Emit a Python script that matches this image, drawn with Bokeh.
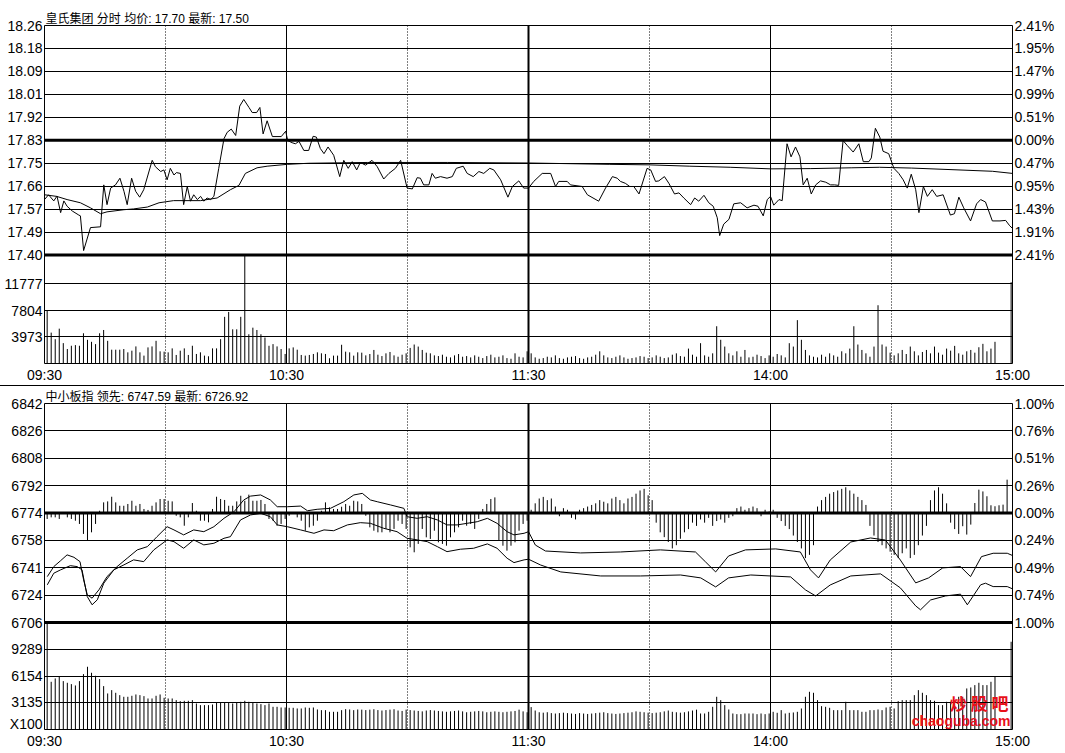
import numpy as np
from bokeh.plotting import figure
from bokeh.models import Range1d, LinearAxis, FixedTicker, Span, Label, Div, Title
from bokeh.layouts import column
from bokeh.embed import file_html
from bokeh.resources import INLINE

# ------------------------------------------------------------------ data
stock_title = "皇氏集团 分时 均价: 17.70 最新: 17.50"
index_title = "中小板指 领先: 6747.59 最新: 6726.92"
watermark_cn = "炒 股 吧"
watermark_en = "chaoguba.com"
vol_unit_label = "X100"

time_ticks = [0, 60, 120, 180, 240]
time_labels = ["09:30", "10:30", "11:30", "14:00", "15:00"]

# stock (price panel)
price_lo, price_hi, price_prev = 17.40, 18.26, 17.83
price_tick_labels = ["17.40", "17.49", "17.57", "17.66", "17.75", "17.83",
                     "17.92", "18.01", "18.09", "18.18", "18.26"]
price_pct_labels = ["2.41%", "1.91%", "1.43%", "0.95%", "0.47%", "0.00%",
                    "0.51%", "0.99%", "1.47%", "1.95%", "2.41%"]
vol1_ticks = [3973, 7804, 11777]
vol1_top = 16000

price_t = [0, 1, 2.3, 3.1, 4, 4.8, 5.6, 6.9, 8.5, 8.9, 9.7, 11.4, 13.9, 14.7, 15.5, 16.4, 17.6, 18.7, 19.7,
           20.5, 21.6, 22.6, 23.6, 24.6, 26.7, 27.5, 28.8, 29.6, 30.4, 31.2, 32.1, 32.7, 33.7, 34.5, 35.4,
           36.2, 37, 37.9, 38.7, 39.5, 40.3, 41.2, 42, 43.2, 44.5, 45.3, 46.3, 47.4, 48.4, 49.4, 50.7, 51.5,
           52.6, 53.4, 54.2, 55.2, 56.5, 58.7, 59.8, 60.3, 61.4, 62.2, 63.1, 64.3, 65.5, 66.6, 67.4, 68.4,
           69.3, 70.3, 71.7, 73.2, 74.2, 75.3, 76.3, 77.4, 78.3, 79.6, 81.2, 82.5, 84.1, 85.4, 87, 88.3,
           89.9, 91.2, 92.4, 93.2, 94, 95.3, 96.1, 96.9, 98.2, 99.8, 101.1, 102.1, 103.8, 104.8, 106.3,
           107.7, 108.9, 110.4, 111.4, 113.1, 114.9, 116, 117.6, 118.8, 120, 121.3, 123.4, 125.5, 126.7,
           127.5, 129.6, 130.4, 133.3, 134.6, 137.4, 139.1, 140.8, 142, 142.8, 144, 145.1, 146.1, 147.4,
           149.4, 150.3, 151.5, 152.3, 153.7, 154.8, 156.2, 157.3, 158.5, 160.2, 161.2, 162.2, 163.5,
           164.7, 165.8, 166.8, 167.4, 168.4, 169.7, 170.9, 172.6, 174.2, 175.9, 176.9, 178.2, 179.2, 180,
           180.8, 182.1, 182.9, 184.1, 185.1, 186.2, 187.3, 188.1, 189.1, 190.1, 191.2, 192.4, 193.7,
           194.9, 195.9, 196.9, 198, 199, 200.5, 201.9, 203, 204.4, 205, 206, 207.1, 207.9, 209.3, 210.6,
           211.8, 212.9, 213.9, 214.9, 216, 216.8, 217.9, 218.9, 220.1, 221.2, 222.8, 224.6, 225.6, 226.7,
           227.9, 229.6, 231.1, 232.1, 233.3, 235, 236.9, 238.3, 239.3, 240]
price_v = [17.608, 17.626, 17.603, 17.621, 17.559, 17.603, 17.583, 17.565, 17.55, 17.547, 17.417, 17.503,
           17.506, 17.663, 17.589, 17.651, 17.663, 17.688, 17.639, 17.589, 17.688, 17.639, 17.617, 17.645,
           17.755, 17.731, 17.713, 17.719, 17.682, 17.725, 17.70, 17.709, 17.706, 17.589, 17.657, 17.602,
           17.626, 17.608, 17.62, 17.602, 17.614, 17.608, 17.62, 17.725, 17.836, 17.86, 17.872, 17.848,
           17.958, 17.983, 17.953, 17.934, 17.934, 17.953, 17.854, 17.903, 17.844, 17.844, 17.864, 17.829,
           17.821, 17.817, 17.826, 17.792, 17.792, 17.845, 17.842, 17.799, 17.78, 17.805, 17.774, 17.694,
           17.755, 17.725, 17.75, 17.719, 17.747, 17.737, 17.755, 17.731, 17.685, 17.706, 17.725, 17.755,
           17.651, 17.648, 17.69, 17.688, 17.663, 17.663, 17.706, 17.688, 17.694, 17.688, 17.694, 17.725,
           17.733, 17.706, 17.694, 17.713, 17.706, 17.725, 17.719, 17.682, 17.617, 17.657, 17.678, 17.651,
           17.651, 17.676, 17.706, 17.706, 17.657, 17.676, 17.676, 17.663, 17.657, 17.626, 17.602, 17.651,
           17.694, 17.688, 17.676, 17.669, 17.657, 17.657, 17.629, 17.725, 17.719, 17.676, 17.678, 17.694,
           17.669, 17.629, 17.633, 17.614, 17.589, 17.614, 17.602, 17.624, 17.596, 17.583, 17.54, 17.473,
           17.516, 17.534, 17.592, 17.596, 17.577, 17.587, 17.583, 17.547, 17.608, 17.62, 17.587, 17.608,
           17.604, 17.817, 17.768, 17.805, 17.768, 17.663, 17.688, 17.629, 17.663, 17.678, 17.673, 17.663,
           17.663, 17.661, 17.829, 17.811, 17.786, 17.817, 17.75, 17.75, 17.764, 17.875, 17.842, 17.789,
           17.78, 17.725, 17.706, 17.682, 17.651, 17.703, 17.645, 17.559, 17.657, 17.62, 17.645, 17.62,
           17.626, 17.55, 17.555, 17.617, 17.577, 17.528, 17.592, 17.608, 17.599, 17.528, 17.528, 17.53,
           17.51, 17.50]

avg_t = [0, 3, 5.6, 8.9, 11.4, 13.9, 15.5, 19.7, 22.1, 25.5, 28.4, 32, 38.7, 42.8, 46.1, 48.2, 49.8,
         52.7, 55.2, 60.2, 65.5, 80, 100, 120, 140, 150, 160, 170, 180, 190, 200, 207, 215, 225, 235, 240]
avg_v = [17.626, 17.62, 17.608, 17.596, 17.577, 17.555, 17.562, 17.57, 17.573, 17.58, 17.596, 17.604,
         17.604, 17.614, 17.645, 17.661, 17.706, 17.727, 17.733, 17.74, 17.744, 17.747, 17.747, 17.745,
         17.74, 17.738, 17.733, 17.729, 17.723, 17.724, 17.727, 17.729, 17.726, 17.72, 17.714, 17.706]

vol1 = [7804, 4559, 3589, 5141, 3007, 2134, 2619, 2716, 2619, 4462,
        3492, 3201, 2862, 4462, 4947, 3347, 2037, 2037, 2037, 2134,
        1649, 1892, 2522, 1649, 1164, 2377, 2522, 3347, 1795, 1746,
        1649, 2231, 1261, 1892, 2231, 1261, 2619, 1407, 1649, 1164,
        1067, 2231, 2231, 3589, 6887, 7615, 5044, 5044, 6887, 16000,
        4317, 5287, 4947, 4317, 3832, 2619, 2862, 2522, 2134, 1407,
        2231, 2377, 2037, 1261, 1164, 1261, 1407, 1649, 1504, 1407,
        776, 1164, 1164, 2765, 1746, 1649, 1164, 1649,
        1600, 1200, 1400, 2000, 1300, 1100, 1500, 1700, 1200, 1000,
        1300, 1500, 2300, 2800, 2500, 2000, 1600, 1500, 1200, 1100,
        1300, 1000, 900, 1200, 1400, 1000, 1100, 900, 1200, 1000,
        800, 1100, 1300, 900, 1000, 1200, 800, 700, 1500, 1000, 900, 1800,
        1500, 900, 700, 800, 1000, 900, 1200, 800, 700, 900,
        1000, 1100, 800, 700, 900, 1000, 1300, 1800, 1200, 900,
        800, 1000, 1200, 900, 700, 800, 900, 1100, 1000, 800,
        900, 1200, 1000, 800, 900, 1300, 1500, 1100, 1000, 2200,
        1300, 1000, 3000, 1200, 1000, 1500, 5500, 3500, 2500, 1500,
        1200, 1800, 1000, 2000, 900, 1000, 1300, 1100, 800, 1200,
        1000, 1400, 1200, 900, 3000, 2500, 6400, 3500, 2000, 1200,
        1000, 900, 1300, 1000, 1500, 1200, 1000, 1800, 1500, 2200,
        5500, 2800, 2000, 1500, 1000, 2500, 8600, 2800, 2500, 1600,
        1200, 1500, 2000, 1400, 2500, 1800, 1200, 1700, 2000, 1500,
        2500, 1600, 1300, 2200, 1900, 2600, 1500, 1300, 1800, 2000,
        1600, 2400, 2900, 1800, 2200, 3200, 0, 0, 0, 12000]

# index panel
idx_lo, idx_hi, idx_prev = 6706, 6842, 6774
idx_tick_labels = ["6706", "6724", "6741", "6758", "6774", "6792", "6808", "6826", "6842"]
idx_pct_labels = ["1.00%", "0.74%", "0.49%", "0.24%", "0.00%", "0.26%", "0.51%", "0.76%", "1.00%"]
vol2_ticks = [3135, 6154, 9289]
vol2_unit_at = 600
vol2_top = 12400

lead_t = [0.7, 2.3, 4, 5.6, 7.3, 8.8, 9.7, 10.6, 11.8, 13.5, 15.5, 18, 20.5, 23, 25.5, 27.9, 30.4, 32.1,
          34.5, 37, 39.5, 42, 44.5, 47, 49.4, 51.1, 53.6, 56, 57.7, 60.2, 63.5, 65.2, 67.6, 70.9, 74.2,
          76.7, 78.8, 80.8, 82.5, 85.8, 89.1, 89.9, 92.4, 94.9, 97.4, 99.8, 102.3, 104.8, 107.3, 109.8,
          112.2, 114.7, 116.4, 118.9, 120, 121.7, 124.2, 132.9, 142.8, 152.7, 161.4, 163.9, 166.4, 169.6,
          173.8, 181.3, 187.4, 189.9, 191.9, 194.8, 199.9, 204.8, 208.5, 212.2, 216, 219.2, 222.7, 227.1,
          229.6, 232.3, 235.2, 238.7, 240]
lead_v = [6734.5, 6740.7, 6744.4, 6748, 6746.5, 6743.8, 6732.5, 6723.2, 6721.1, 6726.3, 6734.5, 6740.7,
          6745.9, 6751.1, 6753.1, 6759.3, 6765.5, 6763.5, 6760.4, 6763.5, 6762.4, 6765.5, 6770.7, 6774.8,
          6782.1, 6784.5, 6785.2, 6782.1, 6777.9, 6777.9, 6778.3, 6775.4, 6776.3, 6776.9, 6781, 6785.2,
          6786.2, 6782.1, 6781, 6779, 6776.9, 6771.7, 6770.7, 6771.7, 6769.7, 6766.6, 6766.6, 6767.6,
          6768.6, 6770.7, 6767.6, 6762.4, 6760.4, 6761.4, 6762.4, 6754.1, 6750.4, 6749.2, 6749.8, 6751.1,
          6749.8, 6743.6, 6737.4, 6747.3, 6751.1, 6751.7, 6749.8, 6738.7, 6733.7, 6744.8, 6756, 6758.5,
          6757.2, 6744.8, 6730.6, 6733.7, 6739.9, 6740.7, 6734.5, 6746.9, 6749, 6749, 6747.6]
idx_t = [0.7, 2.3, 4, 6.4, 8.1, 9.3, 10.6, 11.8, 13.1, 14.7, 17.2, 19.7, 22.1, 24.6, 27.1, 30.4, 32.1,
         34.5, 37, 39.5, 42, 44.5, 46.1, 48.6, 51.1, 53.6, 56, 57.7, 60.2, 63.5, 66.8, 69.3, 71.7, 75.1,
         78.3, 80.8, 84.1, 87.4, 89.9, 92.4, 94.9, 97.4, 99.8, 103.1, 106.4, 109.8, 112.2, 114.7, 116.4,
         118.9, 120, 123, 128, 137.9, 147.8, 157.7, 162.7, 166.4, 169.6, 175.1, 185, 188.7, 191.2, 194.8,
         199.9, 207.3, 212.2, 216, 217.2, 219.7, 223.4, 227.1, 228.8, 232.1, 233.3, 235.2, 238.7, 240]
idx_v = [6729.4, 6736.6, 6738.7, 6741.3, 6740.7, 6738.7, 6722.1, 6717, 6720.1, 6730.4, 6738.7, 6741.8,
         6744.9, 6743.8, 6751.1, 6757.3, 6756.2, 6752.1, 6757.3, 6754.2, 6755.2, 6758.3, 6759.3, 6769.7,
         6772.8, 6773.8, 6771.7, 6766.6, 6765.5, 6763.5, 6761.4, 6763.5, 6763, 6766.6, 6768, 6767.6,
         6764.5, 6762.4, 6758.3, 6757.3, 6756.2, 6753.1, 6750, 6751.5, 6752.1, 6754.8, 6752.1, 6745.9,
         6743.2, 6744.9, 6745.3, 6741.7, 6737.4, 6734.9, 6734.9, 6735.5, 6733.7, 6728.1, 6733.7, 6735.5,
         6734.3, 6726.2, 6722.5, 6729.3, 6734.9, 6736.2, 6727.5, 6716.3, 6713.9, 6720, 6722.5, 6723.6,
         6717, 6729.4, 6730.4, 6728.3, 6728.3, 6726.9]

ind_dev = [-3.7, -2.7, -2.7, -3.7, 0, -2.7, -3.7, -4.8, -6.8, -13,
           -17.2, -12, -6.8, 1.4, 6.6, 7.2, 10.1, 6.6, 4.5, 4.5,
           5.6, 7.6, 4.5, 5.6, 2.5, 1.9, 4.5, 6.6, 8.7, 8.7,
           7.6, 7.2, -1.7, -2.7, -7.9, -2.7, 6.2, 1.4, -4.8, -4.8,
           -5.8, 2.5, 10.1, 8.7, 8.1, 4.5, 4.5, 7.2, 10.7, 7.6,
           11.4, 7.6, 7.6, 8.1, 5.6, -3.7, -4.8, -7.9, -6.8, -3.7,
           -1.7, -0.6, -2.7, -4.8, -11, -8.9, -7.9, -4.8, 1.4, 6.6,
           3.5, 2.5, 2.5, 3.9, 5.6, 4.5, 7.6, 7.2, 5.6, -1.7,
           -8.9, -11, -12, -12, -9.9, -12, -9.9, -4.8, -6.8, -9.9,
           -21.3, -24.4, -19.2, -9.9, -15.1, -16.1, -11, -18.2, -19.2, -20.3,
           -15.1, -12, -8.9, -4.8, -7.9, -6.8, -9.9, -3.7, 2.5, 5.6,
           8.7, 9.7, -17.2, -20.3, -23.4, -20.3, -18.2, -11, -6.8, -4.8,
           2, 6, 9, 10, 8, 9, 4, -2, 3, 2,
           -3, -4, 2, 3, 4, 5, 6, 8, 7, 6,
           9, 10, 8, 6, 9, 10, 12, 14, 15, 11,
           8, -6, -12, -15, -18, -22, -20, -16, -12, -10,
           -6, -8, -4, -6, -3, -8, -5, -4, -6, -3,
           -2, 3, 4, 2, 3, 4, 3, -2, 2, 1,
           2, -3, -5, -8, -10, -14, -18, -22, -28, -26,
           -20, 4, 8, 10, 12, 13, 14, 15, 16, 14,
           12, 10, 8, 5, -8, -14, -18, -20, -22, -24,
           -26, -28, -25, -22, -28, -26, -20, -14, -8, 8,
           14, 16, 12, 6, -6, -10, -13, -8.2, -13.4, -7.2,
           6.2, 14.5, 13.4, 10.4, 4.8, 4.2, 4.8, 5.2, 20.7, 0]

vol2 = [12400, 5530, 5917, 6110, 5607, 5414, 5259, 5104, 5607, 6419,
        7270, 6574, 6226, 5839, 5027, 4176, 4563, 4254, 3983, 3790,
        3790, 3906, 4060, 3983, 3867, 3596, 3596, 3906, 4060, 3674,
        3596, 3596, 3403, 3287, 3326, 3326, 3403, 3016, 2823, 2823,
        2823, 2900, 3094, 3094, 3094, 3094, 3016, 3094, 3210, 3326,
        3210, 3094, 3016, 2939, 2823, 3016, 2630, 2630, 2552, 2552,
        2514, 2514, 2436, 2436, 2552, 2514, 2552, 2320, 2243, 2243,
        2050, 2050, 2050, 2243, 2359, 2320, 2243, 2320,
        2300, 2250, 2300, 2350, 2250, 2200, 2250, 2300, 2350, 2200,
        2150, 2300, 2250, 2200, 2150, 2100, 2200, 2250, 2200, 2150,
        2100, 2050, 2100, 2150, 2200, 2100, 2000, 2050, 2100, 2150,
        2100, 2000, 2050, 2100, 2050, 2000, 2050, 2100, 2150, 2300, 2100, 2000,
        2600, 2200, 2000, 1950, 2000, 1900, 1850, 1900, 1950, 1900,
        1850, 1800, 1900, 1850, 1800, 1850, 1900, 1950, 2000, 1900,
        1850, 1800, 1850, 1900, 1950, 2000, 2100, 2050, 2000, 1950,
        1900, 1950, 2000, 2100, 2200, 2050, 2000, 1950, 2000, 2100,
        2200, 2300,
        1856, 1856, 2050, 2630, 3790, 3403, 2823, 2320, 1856, 1779,
        1779, 1856, 1856, 1856, 1779, 1856, 1779, 1856,
        2050, 1934, 2243, 1856, 1934, 1972, 2050, 2436, 3790, 4370,
        4254, 3403, 2707, 2630, 2514, 2243, 2243, 2243, 3210, 2243,
        2243, 2243, 2050, 2050, 2243, 2243, 2320, 2243, 2552, 2630,
        2436, 3287, 3403, 3403, 3403, 3983, 4563, 4254, 3983, 3403,
        3326, 2823, 2823, 3210, 3210, 3403, 3790, 3790, 4756, 4872,
        5143, 5414, 5143, 5143, 5530, 6110, 0, 0, 0, 10170]

# ------------------------------------------------------------------ layout constants
W = 1064
BL = 44
BR = W - 1012
AX_FONT = "Liberation Sans"
TITLE_FONT = "Liberation Sans, Noto Sans CJK SC"
CJK_FONT = "Noto Sans CJK SC"
AX_SIZE = "14px"
BAR_OFFSET = 0.66
DOTTED = [30, 90, 150, 210]
RED = "#e8101a"


def panel(title, lo, hi, prev, tick_labels, pct_labels, vol_top, vol_ticks, vol_extra,
          top_px, vol_px, b_top, b_bottom):
    ext = (hi - lo) * vol_px / top_px
    y0 = lo - ext
    vol_end = vol_top * (top_px + vol_px) / vol_px
    p = figure(width=W, height=b_top + top_px + vol_px + b_bottom,
               x_range=Range1d(0, 240), y_range=Range1d(y0, hi),
               output_backend="svg", toolbar_location=None,
               min_border_left=BL, min_border_right=BR,
               min_border_top=b_top, min_border_bottom=b_bottom,
               background_fill_color="white", border_fill_color="white")
    p.extra_y_ranges = {"vol": Range1d(0, vol_end)}
    p.outline_line_color = "black"
    p.outline_line_alpha = 1
    p.outline_line_width = 1

    p.title = Title(text=title, align="left", text_font=TITLE_FONT, text_font_size="12px",
                    text_font_style="normal", text_color="black", standoff=0, offset=1)

    main_ticks = [round(float(v), 6) for v in np.linspace(lo, hi, len(tick_labels))]
    vol_pos = [round(y0 + v / vol_end * (hi - y0), 6) for v in vol_ticks]
    overrides = {t: l for t, l in zip(main_ticks, tick_labels)}
    overrides.update({t: str(v) for t, v in zip(vol_pos, vol_ticks)})
    ticks = main_ticks + vol_pos
    label_ticks = list(ticks)
    if vol_extra is not None:
        val, text = vol_extra
        pos = round(y0 + val / vol_end * (hi - y0), 6)
        overrides[pos] = text
        label_ticks.append(pos)

    ya = p.yaxis[0]
    ya.ticker = FixedTicker(ticks=label_ticks)
    ya.major_label_overrides = overrides
    p.ygrid.ticker = FixedTicker(ticks=ticks)
    ra = LinearAxis(ticker=FixedTicker(ticks=main_ticks),
                    major_label_overrides={t: l for t, l in zip(main_ticks, pct_labels)})
    p.add_layout(ra, "right")
    for ax in (ya, ra):
        ax.major_tick_out = 0
        ax.major_tick_in = 0
        ax.minor_tick_line_color = None
        ax.axis_line_color = None
        ax.major_label_standoff = 2
        ax.major_label_text_font = AX_FONT
        ax.major_label_text_font_size = AX_SIZE
        ax.major_label_text_color = "black"

    xa = p.xaxis[0]
    xa.ticker = FixedTicker(ticks=time_ticks)
    xa.major_label_overrides = {t: l for t, l in zip(time_ticks, time_labels)}
    xa.major_tick_out = 0
    xa.major_tick_in = 0
    xa.minor_tick_line_color = None
    xa.axis_line_color = None
    xa.major_label_standoff = 3
    xa.major_label_text_font = AX_FONT
    xa.major_label_text_font_size = AX_SIZE
    xa.major_label_text_color = "black"

    p.ygrid.grid_line_color = "black"
    p.ygrid.grid_line_alpha = 1
    p.xgrid.grid_line_color = "black"
    p.xgrid.grid_line_alpha = 1

    for loc in (prev, lo):
        p.add_layout(Span(location=loc, dimension="width", line_color="black", line_width=3))
    p.add_layout(Span(location=120, dimension="height", line_color="black", line_width=2))
    for loc in DOTTED:
        p.add_layout(Span(location=loc, dimension="height", line_color="black",
                          line_width=1, line_dash="1 2"))
    return p


# ---------------- top: stock
p1 = panel(stock_title, price_lo, price_hi, price_prev, price_tick_labels, price_pct_labels,
           vol1_top, vol1_ticks, None, 233, 110, 25, 17)
bx = np.arange(len(vol1)) + BAR_OFFSET
p1.segment(x0=bx, y0=0, x1=bx, y1=vol1, y_range_name="vol", line_color="black", line_width=1)
p1.line(avg_t, avg_v, line_color="black", line_width=1)
p1.line(price_t, price_v, line_color="black", line_width=1)

# ---------------- bottom: index
p2 = panel(index_title, idx_lo, idx_hi, idx_prev, idx_tick_labels, idx_pct_labels,
           vol2_top, vol2_ticks, (vol2_unit_at, vol_unit_label), 219, 107, 17, 22)
bx2 = np.arange(len(vol2)) + BAR_OFFSET
p2.segment(x0=bx2, y0=0, x1=bx2, y1=vol2, y_range_name="vol", line_color="black", line_width=1)
dev = np.array(ind_dev)
p2.segment(x0=bx2, y0=idx_prev, x1=bx2, y1=idx_prev + dev, line_color="black", line_width=1)
p2.line(lead_t, lead_v, line_color="black", line_width=1)
p2.line(idx_t, idx_v, line_color="black", line_width=1)

# watermark (kept inside the plot frame so it is not clipped)
p2.add_layout(Label(x=964, y=15, x_units="screen", y_units="screen", text=watermark_cn,
                    text_align="right", text_baseline="bottom", text_font=CJK_FONT,
                    text_font_size="17px", text_font_style="bold", text_color=RED))
p2.add_layout(Label(x=966, y=1, x_units="screen", y_units="screen", text=watermark_en,
                    text_align="right", text_baseline="bottom", text_font=AX_FONT,
                    text_font_size="14px", text_font_style="bold", text_color=RED))

sep = Div(text="", width=W, height=1, margin=0, styles={"background-color": "black"})

layout = column(p1, sep, p2, spacing=0)
open("out.html", "w").write(file_html(layout, INLINE))
